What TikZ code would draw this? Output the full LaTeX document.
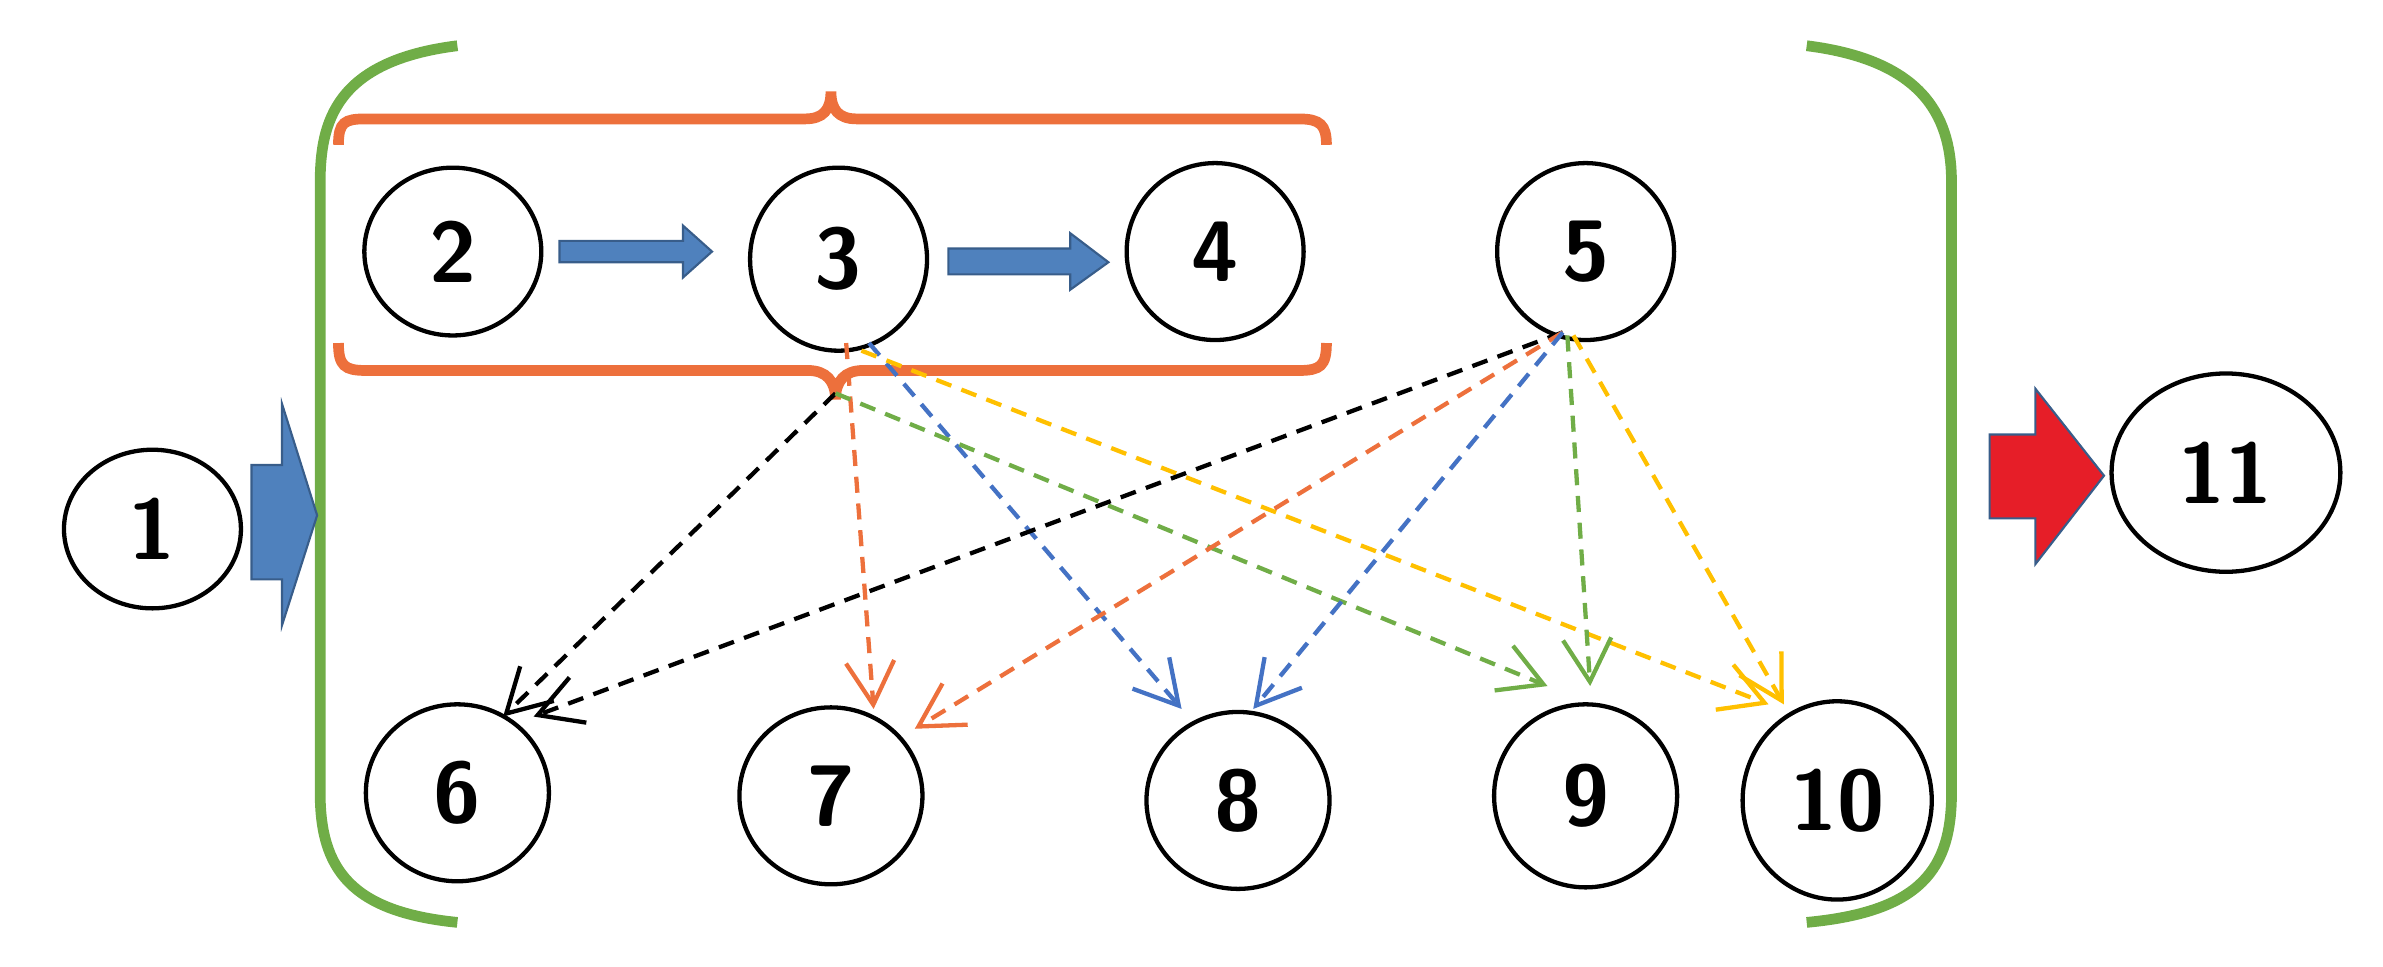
\documentclass[tikz,border=0pt]{standalone}
\usetikzlibrary{arrows.meta,shapes.geometric}
\begin{document}
\begin{tikzpicture}[x=0.01cm,y=-0.01cm,
 circ/.style={draw,ellipse,thick,inner sep=0pt,font=\sffamily\bfseries\fontsize{16}{16}\selectfont},
 darr/.style={densely dashed,thick,-{Straight Barb[length=8pt,width=9pt]}},
 brace/.style={draw={rgb,255:red,237;green,112;blue,60},line width=2pt},
 par/.style={draw={rgb,255:red,112;green,173;blue,71},line width=2pt},
 blk/.style={fill={rgb,255:red,79;green,129;blue,189},draw={rgb,255:red,56;green,93;blue,138},thin}]
\useasboundingbox (0,0) rectangle (1563,634);
\node[circ,minimum width=1.16cm,minimum height=1.04cm] (n1) at (100,347) {1};
\node[circ,minimum width=1.16cm,minimum height=1.10cm] (n2) at (297,165) {2};
\node[circ,minimum width=1.16cm,minimum height=1.20cm] (n3) at (550,170) {3};
\node[circ,minimum width=1.16cm,minimum height=1.16cm] (n4) at (797,165) {4};
\node[circ,minimum width=1.16cm,minimum height=1.16cm] (n5) at (1040,165) {5};
\node[circ,minimum width=1.20cm,minimum height=1.16cm] (n6) at (300,520) {6};
\node[circ,minimum width=1.20cm,minimum height=1.16cm] (n7) at (545,522) {7};
\node[circ,minimum width=1.20cm,minimum height=1.16cm] (n8) at (812,525) {8};
\node[circ,minimum width=1.20cm,minimum height=1.20cm] (n9) at (1040,522) {9};
\node[circ,minimum width=1.24cm,minimum height=1.30cm] (n10) at (1205,525) {10};
\node[circ,minimum width=1.50cm,minimum height=1.30cm] (n11) at (1460,310) {11};
% parentheses
\draw[par] (300,30) .. controls (220,40) and (210,80) .. (210,120) -- (210,520) .. controls (210,570) and (230,598) .. (300,605);
\draw[par] (1185,30) .. controls (1265,40) and (1280,80) .. (1280,120) -- (1280,520) .. controls (1280,570) and (1260,598) .. (1185,605);
% braces
\draw[brace] (222,95) .. controls (222,80) and (226,78) .. (240,78) -- (528,78) .. controls (540,78) and (545,72) .. (545,60) .. controls (545,72) and (550,78) .. (562,78) -- (852,78) .. controls (866,78) and (870,82) .. (870,95);
\draw[brace] (222,225) .. controls (222,240) and (226,243) .. (240,243) -- (530,243) .. controls (542,243) and (548,250) .. (548,262) .. controls (548,250) and (554,243) .. (566,243) -- (852,243) .. controls (866,243) and (870,240) .. (870,225);
% block arrows
\draw[blk] (367,158)--(448,158)--(448,148)--(467,165)--(448,182)--(448,172)--(367,172)--cycle;
\draw[blk] (622,163)--(702,163)--(702,153)--(727,172)--(702,190)--(702,180)--(622,180)--cycle;
\draw[blk] (165,305)--(185,305)--(185,265)--(208,338)--(185,410)--(185,380)--(165,380)--cycle;
\draw[fill={rgb,255:red,230;green,30;blue,40},draw={rgb,255:red,56;green,93;blue,138},thin] (1305,285)--(1335,285)--(1335,255)--(1380,312)--(1335,370)--(1335,340)--(1305,340)--cycle;
% dashed
\coordinate (a) at (548,258); \coordinate (c) at (1025,218);
\coordinate (s7) at (555,225); \coordinate (s8) at (570,225); \coordinate (s10) at (565,230);
\coordinate (s9b) at (1028,220); \coordinate (s10b) at (1032,220);
\coordinate (t6) at (330,470); \coordinate (t6b) at (350,470);
\coordinate (t7) at (573,465); \coordinate (t7b) at (600,478);
\coordinate (t8) at (775,465); \coordinate (t8b) at (822,465);
\coordinate (t9) at (1015,450); \coordinate (t9b) at (1043,450);
\coordinate (t10) at (1160,462); \coordinate (t10b) at (1170,462);
\draw[darr,black] (a)--(t6);
\draw[darr,color={rgb,255:red,237;green,112;blue,60}] (s7)--(t7);
\draw[darr,color={rgb,255:red,68;green,114;blue,196}] (s8)--(t8);
\draw[darr,color={rgb,255:red,112;green,173;blue,71}] (a)--(t9);
\draw[darr,color={rgb,255:red,255;green,192;blue,0}] (s10)--(t10);
\draw[darr,black] (c)--(t6b);
\draw[darr,color={rgb,255:red,237;green,112;blue,60}] (c)--(t7b);
\draw[darr,color={rgb,255:red,68;green,114;blue,196}] (c)--(t8b);
\draw[darr,color={rgb,255:red,112;green,173;blue,71}] (s9b)--(t9b);
\draw[darr,color={rgb,255:red,255;green,192;blue,0}] (s10b)--(t10b);
\end{tikzpicture}
\end{document}
